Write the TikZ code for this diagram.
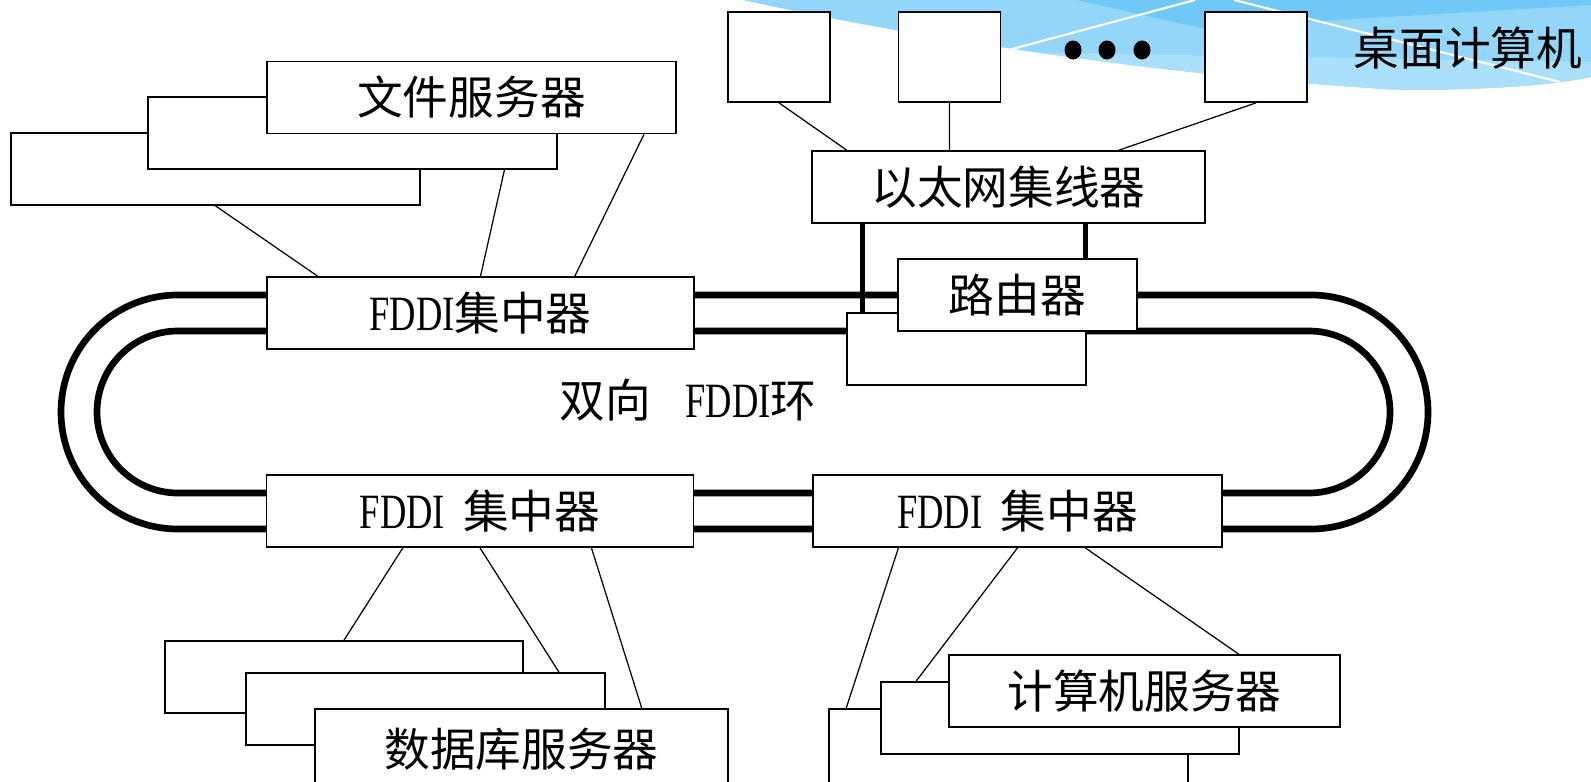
\documentclass[tikz,border=0pt]{standalone}
\usepackage{fontspec}
\usepackage{graphicx}
\setmainfont{Liberation Serif}
\newfontfamily\cjk{Noto Sans CJK SC}
\usetikzlibrary{calc}
\definecolor{skymid}{RGB}{148,214,249}
\definecolor{skydark}{RGB}{112,200,246}
\definecolor{skylight}{RGB}{170,223,250}
\newcommand{\fddi}{\scalebox{0.8}[1.08]{\rmfamily FDDI}}

\begin{document}
\begin{tikzpicture}[x=0.02cm,y=-0.02cm,
  every node/.style={font=\fontsize{26}{30}\selectfont},
  box/.style={draw,fill=white,line width=1pt,inner sep=0pt,minimum height=1.44cm},
  link/.style={line width=0.7pt},
  ring/.style={line width=3.8pt},
  trunk/.style={line width=2.3pt}]
\useasboundingbox (0,0) rectangle (1591,781);

%sky band in the corner
\begin{scope}
  \clip (743,0) .. controls (900,35) and (1150,75) .. (1400,90)
        .. controls (1500,90) and (1560,84) .. (1591,77) -- (1591,0) -- cycle;
  \fill[skymid] (700,0) rectangle (1591,100);
  \fill[skydark] (1077,0) -- (1200,28) -- (1591,5) -- (1591,0) -- cycle;
  \fill[skylight] (1001,52) -- (1591,62) -- (1591,100) -- (1001,100) -- cycle;
  \draw[white,line width=1.2pt] (960,63) -- (1195,0) (1234,0) -- (1560,82);
\end{scope}

% dual ring
\draw[ring,rounded corners=2.34cm] (61,295) rectangle (1428,529);
\draw[ring,rounded corners=1.62cm] (97,331) rectangle (1390,493);

\node[box,minimum width=8.18cm] (fs3) at (215.5,169) {};
\node[box,minimum width=8.18cm] (fs2) at (352.5,133) {};
\node[box,minimum width=8.18cm] (fs1) at (471.5,97.5) {\cjk 文件服务器};

\node[box,minimum width=2.04cm,minimum height=1.8cm] (pc1) at (779,57) {};
\node[box,minimum width=2.04cm,minimum height=1.8cm] (pc2) at (949.5,57) {};
\node[box,minimum width=2.04cm,minimum height=1.8cm] (pc3) at (1256,57) {};

\node[box,minimum width=7.86cm] (hub) at (1008.5,187) {\cjk 以太网集线器};
\node[box,minimum width=4.78cm] (rtb) at (966.5,349) {};
\node[box,minimum width=4.78cm] (rt) at (1017.5,295) {\cjk 路由器};

\node[box,minimum width=8.54cm] (fa) at (480.5,313) {\fddi\cjk 集中器};
\node[box,minimum width=8.54cm] (fb) at (480,511) {\fddi\hspace{.4em}\cjk 集中器};
\node[box,minimum width=8.18cm] (fc) at (1017.5,511) {\fddi\hspace{.4em}\cjk 集中器};

\node[box,minimum width=7.16cm] (db3) at (344,677) {};
\node[box,minimum width=7.18cm] (db2) at (425.5,709) {};
\node[box,minimum width=8.26cm,minimum height=1.6cm] (db1) at (521.5,749) {\cjk 数据库服务器};

\node[box,minimum width=7.18cm,minimum height=1.6cm] (cs3) at (1008.5,749) {};
\node[box,minimum width=7.16cm] (cs2) at (1060,718) {};
\node[box,minimum width=7.82cm] (cs1) at (1144.5,691) {\cjk 计算机服务器};

\draw[link]
  ($(fs3.south west)!.50!(fs3.south east)$) -- ($(fa.north west)!.12!(fa.north east)$)
  ($(fs2.south west)!.87!(fs2.south east)$) -- ($(fa.north west)!.50!(fa.north east)$)
  ($(fs1.south west)!.92!(fs1.south east)$) -- ($(fa.north west)!.72!(fa.north east)$)
  (pc1.south) -- ($(hub.north west)!.09!(hub.north east)$)
  (pc2.south) -- (pc2.south |- hub.north)
  (pc3.south) -- ($(hub.north west)!.78!(hub.north east)$)
  ($(fb.south west)!.32!(fb.south east)$) -- ($(db3.north west)!.50!(db3.north east)$)
  ($(fb.south west)!.50!(fb.south east)$) -- ($(db2.north west)!.87!(db2.north east)$)
  ($(fb.south west)!.76!(fb.south east)$) -- ($(db1.north west)!.79!(db1.north east)$)
  ($(fc.south west)!.21!(fc.south east)$) -- ($(cs3.north west)!.05!(cs3.north east)$)
  ($(fc.south west)!.50!(fc.south east)$) -- ($(cs2.north west)!.10!(cs2.north east)$)
  ($(fc.south west)!.665!(fc.south east)$) -- ($(cs1.north west)!.74!(cs1.north east)$);

% hub to router
\coordinate (t1) at ($(hub.south west)!.13!(hub.south east)$);
\coordinate (t2) at ($(hub.south west)!.695!(hub.south east)$);
\draw[trunk] (t1) -- (t1 |- rtb.north) (t2) -- (t2 |- rt.north);

\node (ringlbl) at (688,400) {\cjk 双向\hspace{.75em}\fddi 环};
\node (pclbl) at (1468,48) {\cjk 桌面计算机};
\foreach \x in {1073,1107,1142}
  \fill (\x,50) ellipse [x radius=8.5, y radius=9.5];

\end{tikzpicture}
\end{document}
